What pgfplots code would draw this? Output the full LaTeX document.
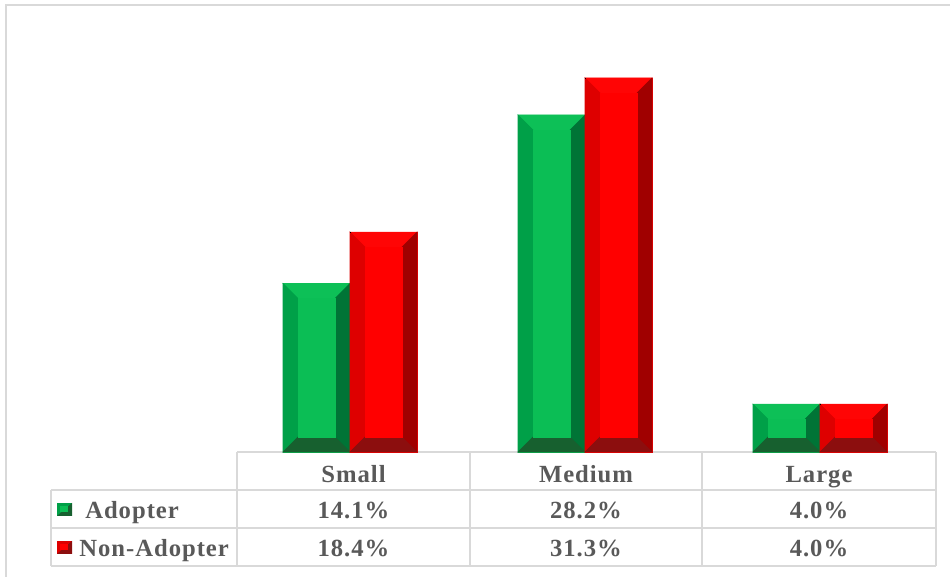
\documentclass[border=0pt]{standalone}
\usepackage{pgfplots}
\pgfplotsset{compat=1.18}
\usepackage{pgfplotstable}
\usepackage{fontspec}
\setmainfont{Liberation Serif}[LetterSpace=4]

\definecolor{gridgray}{HTML}{D9D9D9}
\definecolor{txtgray}{HTML}{595959}
% green series (Adopter)
\definecolor{gFace}{HTML}{0BBE55}
\definecolor{gTop}{HTML}{0DC057}
\definecolor{gLeft}{HTML}{00A048}
\definecolor{gRight}{HTML}{007436}
\definecolor{gBottom}{HTML}{17602F}
% red series (Non-Adopter)
\definecolor{rFace}{HTML}{FF0000}
\definecolor{rTop}{HTML}{FF0505}
\definecolor{rLeft}{HTML}{DE0000}
\definecolor{rRight}{HTML}{A00000}
\definecolor{rBottom}{HTML}{8C0E0E}

% share of firms (%) by size class
\pgfplotstableread{
x   v
0.5 14.1
1.5 28.2
2.5 4.0
}\adopter
\pgfplotstableread{
x   v
0.5 18.4
1.5 31.3
2.5 4.0
}\nonadopter

% bevelled bar hanging below the current point
% #1,#2 left/right edge, #3 height, #4 face, #5 top, #6 left, #7 right, #8 bottom
\newcommand\bevelbar[8]{%
  \def\bv{11.25pt}%
  \fill[#4] (#1,0pt) rectangle (#2,-#3);
  \fill[#5] (#1,0pt) -- (#2,0pt) -- (#2-\bv,-\bv) -- (#1+\bv,-\bv) -- cycle;
  \fill[#6] (#1,0pt) -- (#1+\bv,-\bv) -- (#1+\bv,-#3+\bv) -- (#1,-#3) -- cycle;
  \fill[#7] (#2,0pt) -- (#2,-#3) -- (#2-\bv,-#3+\bv) -- (#2-\bv,-\bv) -- cycle;
  \fill[#8] (#1,-#3) -- (#2,-#3) -- (#2-\bv,-#3+\bv) -- (#1+\bv,-#3+\bv) -- cycle;
  \fill[#4] (#1+\bv,-\bv) rectangle (#2-\bv,-#3+\bv);
}

\newcommand\lbl{\fontsize{18.5}{20}\selectfont\bfseries\color{txtgray}}

\begin{document}
\begin{tikzpicture}[x=0.75pt,y=0.75pt]
\useasboundingbox (0,0) rectangle (950,577);

% frame and data table, in pixel coordinates counted from the top
\begin{scope}[shift={(0,577)}, y=-0.75pt]
  \draw[gridgray, line width=1.5pt] (6,580) -- (6,5) -- (953,5);
  \begin{scope}[gridgray, line width=1.5pt]
    \draw (237,452) -- (936,452);
    \draw (51,490) -- (936,490);
    \draw (51,528) -- (936,528);
    \draw (51,566) -- (936,566);
    \draw (51,490) -- (51,566);
    \foreach \xx in {237,470,702,936} \draw (\xx,452) -- (\xx,566);
  \end{scope}

  % header row
  \node[anchor=base, inner sep=0pt] at (353.5,483) {\lbl Small};
  \node[anchor=base, inner sep=0pt] at (586,483) {\lbl Medium};
  \node[anchor=base, inner sep=0pt] at (819,483) {\lbl Large};

  % legend keys
  \fill[gLeft] (57,503) rectangle (72,516);
  \fill[gBottom] (72,503) -- (72,516) -- (57,516) -- cycle;
  \fill[gFace] (60,506) rectangle (68,512);
  \fill[rLeft] (57,541) rectangle (72,554);
  \fill[rBottom] (72,541) -- (72,554) -- (57,554) -- cycle;
  \fill[rFace] (60,544) rectangle (68,550);

  \node[anchor=base west, inner sep=0pt] at (85,519) {\lbl Adopter};
  \node[anchor=base west, inner sep=0pt] at (79,557) {\lbl Non-Adopter};

  % values
  \node[anchor=base, inner sep=0pt] at (353.5,519) {\lbl 14.1\%};
  \node[anchor=base, inner sep=0pt] at (586,519) {\lbl 28.2\%};
  \node[anchor=base, inner sep=0pt] at (819,519) {\lbl 4.0\%};
  \node[anchor=base, inner sep=0pt] at (353.5,557) {\lbl 18.4\%};
  \node[anchor=base, inner sep=0pt] at (586,557) {\lbl 31.3\%};
  \node[anchor=base, inner sep=0pt] at (819,557) {\lbl 4.0\%};
\end{scope}

% bars: origin of the axis sits on the top rule of the table
\begin{axis}[
  at={(174.375pt,93.75pt)}, anchor=origin,
  x=176.25pt, y=8.9625pt,
  xmin=0, xmax=3, ymin=0, ymax=36,
  hide axis, clip=false,
]
\addplot[scatter, only marks, mark=square*, mark size=0.01pt, point meta=y,
  visualization depends on={\thisrow{v} \as \barval},
  scatter/@pre marker code/.code={%
    \pgfmathsetlengthmacro\barh{\barval*8.9625pt}%
    \bevelbar{-50.25pt}{0pt}{\barh}{gFace}{gTop}{gLeft}{gRight}{gBottom}},
  scatter/@post marker code/.code={}]
  table[x=x, y=v] {\adopter};
\addplot[scatter, only marks, mark=square*, mark size=0.01pt, point meta=y,
  visualization depends on={\thisrow{v} \as \barval},
  scatter/@pre marker code/.code={%
    \pgfmathsetlengthmacro\barh{\barval*8.9625pt}%
    \bevelbar{0pt}{50.25pt}{\barh}{rFace}{rTop}{rLeft}{rRight}{rBottom}},
  scatter/@post marker code/.code={}]
  table[x=x, y=v] {\nonadopter};
\end{axis}
\end{tikzpicture}
\end{document}
